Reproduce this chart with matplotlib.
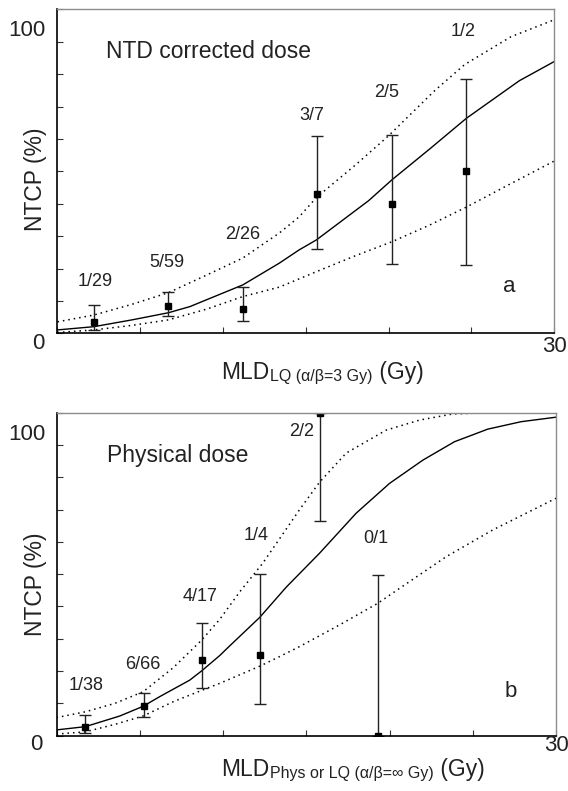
import numpy as np
import matplotlib
matplotlib.use("Agg")
from matplotlib import pyplot as plt

plt.rcParams['font.family'] = ['Liberation Sans', 'DejaVu Sans']

# Panel a: NTD corrected dose (observed points with 68% CI)
ntd_x = [2.2, 6.7, 11.2, 15.65, 20.2, 24.7]
ntd_y = [3.4, 8.5, 7.7, 42.9, 40.0, 50.0]
ntd_lo = [1.2, 5.3, 3.8, 26.1, 21.5, 21.1]
ntd_hi = [8.7, 12.7, 14.4, 61.0, 61.4, 78.5]
ntd_labels = ["1/29", "5/59", "2/26", "3/7", "2/5", "1/2"]
ntd_label_x = [2.3, 6.6, 11.2, 15.35, 19.9, 24.5]
ntd_label_y = [16.0, 22.0, 30.6, 67.4, 74.4, 93.2]

# fitted curve and confidence band, panel a
ntd_fit_x = [0, 2.2, 4.5, 6.7, 8.0, 11.2, 13.4, 14.6, 15.65, 18.8, 20.2, 22.5, 24.7, 27.9, 30]
ntd_fit_y = [1.1, 2.1, 4.2, 6.4, 8.3, 15.0, 21.7, 25.8, 28.9, 41.0, 47.4, 57.0, 66.4, 78.0, 83.9]
ntd_up_x = [0, 2.2, 4.5, 6.7, 9.0, 11.2, 13.4, 14.6, 15.65, 18.0, 20.0, 22.8, 24.6, 27.4, 30]
ntd_up_y = [3.6, 5.7, 9.0, 12.6, 18.0, 23.3, 31.0, 36.0, 42.0, 52.0, 61.0, 75.0, 83.0, 91.6, 96.8]
ntd_dn_x = [0, 2.2, 4.5, 6.7, 9.0, 11.2, 13.4, 15.65, 18.0, 20.2, 22.5, 24.7, 27.0, 30]
ntd_dn_y = [0.3, 1.1, 2.5, 4.2, 7.5, 11.4, 14.3, 19.1, 24.0, 28.3, 33.5, 39.0, 45.2, 53.2]

# Panel b: physical dose
phys_x = [1.73, 5.23, 8.72, 12.2, 15.8, 19.3]
phys_y = [2.6, 9.1, 23.5, 25.0, 100.0, 0.0]
phys_lo = [0.9, 5.9, 14.7, 9.8, 66.6, 0.0]
phys_hi = [6.5, 13.2, 34.8, 50.0, 100.0, 49.7]
phys_labels = ["1/38", "6/66", "4/17", "1/4", "2/2", "0/1"]
phys_label_x = [1.77, 5.2, 8.6, 12.0, 14.7, 19.2]
phys_label_y = [15.4, 21.9, 43.0, 61.9, 94.1, 60.9]

phys_fit_x = [0, 1.73, 3.8, 5.2, 6.2, 8.0, 8.7, 9.8, 10.4, 12.2, 13.8, 15.4, 15.8, 18.0, 20.0, 22.0, 23.9, 25.9, 27.9, 30]
phys_fit_y = [1.8, 2.8, 6.1, 9.1, 12.1, 17.2, 20.0, 24.8, 27.8, 36.6, 46.0, 54.4, 56.5, 68.9, 78.1, 85.3, 91.0, 94.9, 97.2, 98.6]
phys_up_x = [0, 1.73, 3.5, 5.2, 7.0, 8.7, 9.8, 11.0, 12.4, 13.4, 14.6, 15.8, 17.4, 19.8, 21.8, 23.8, 26.0, 30]
phys_up_y = [5.6, 7.4, 10.0, 13.6, 21.0, 29.5, 36.0, 44.5, 53.5, 61.0, 70.0, 78.5, 87.5, 94.6, 97.7, 99.6, 100.0, 100.0]
phys_dn_x = [0, 1.73, 3.5, 5.2, 7.0, 8.7, 9.8, 12.2, 13.4, 14.6, 17.0, 19.3, 20.6, 23.4, 26.2, 30]
phys_dn_y = [0.5, 1.2, 3.5, 6.1, 10.5, 14.0, 16.2, 21.5, 24.5, 27.6, 34.3, 41.0, 45.6, 55.4, 63.7, 73.5]

fig = plt.figure(figsize=(5.68, 7.91), dpi=100)
ax_a = fig.add_axes([0.1012, 0.5784, 0.8742, 0.4096])
ax_b = fig.add_axes([0.0995, 0.0699, 0.8794, 0.4084])

dot = (0, (1, 2.6))
txt_col = '#222222'


def setup(ax):
    ax.set_xlim(0, 30)
    ax.set_ylim(0, 100)
    ax.set_xticks(np.arange(0, 31, 5))
    ax.set_yticks(np.arange(0, 101, 10))
    ax.set_xticklabels([])
    ax.set_yticklabels([])
    ax.tick_params(direction='in', length=4, width=0.8, color='#333333')
    for s in ['left', 'bottom']:
        ax.spines[s].set_linewidth(1.2)
        ax.spines[s].set_color('black')
    for s in ['top', 'right']:
        ax.spines[s].set_linewidth(1.0)
        ax.spines[s].set_color('#8c8c8c')


def panel(ax, px, py, plo, phi, labels, lx, ly, fx, fy, ux, uy, dx, dy):
    ax.plot(fx, fy, color='black', lw=1.0)
    ax.plot(ux, uy, color='black', lw=1.1, linestyle=dot)
    ax.plot(dx, dy, color='black', lw=1.1, linestyle=dot)
    yerr = [np.array(py) - np.array(plo), np.array(phi) - np.array(py)]
    ax.errorbar(px, py, yerr=yerr, fmt='s', color='black', ms=4.5,
                ecolor=txt_col, elinewidth=1.0, capsize=4, capthick=1.0)
    for t, x, y in zip(labels, lx, ly):
        ax.text(x, y, t, fontsize=13, ha='center', va='center', color=txt_col)


def xlabel(ax, x, y, sub):
    # "MLD" + smaller subscript + "(Gy)", chained so the pieces sit side by side
    t1 = ax.text(x, y, "MLD", fontsize=16.5, ha='left', va='bottom',
                 transform=ax.transAxes, color=txt_col)
    t2 = ax.annotate(sub, xy=(1, 0), xycoords=t1, xytext=(0.5, 0), textcoords='offset points',
                     fontsize=11.5, ha='left', va='bottom', color=txt_col)
    ax.annotate(" (Gy)", xy=(1, 0), xycoords=t2, xytext=(0, 0), textcoords='offset points',
                fontsize=16.5, ha='left', va='bottom', color=txt_col)


def corner_labels(ax, top_xy, zero_xy, end_xy, ylab_xy):
    ax.text(*top_xy, "100", fontsize=16, ha='center', va='center', clip_on=False, color=txt_col)
    ax.text(*zero_xy, "0", fontsize=16, ha='center', va='center', clip_on=False, color=txt_col)
    ax.text(*end_xy, "30", fontsize=16, ha='center', va='center', clip_on=False, color=txt_col)
    ax.text(*ylab_xy, "NTCP (%)", fontsize=16.5, rotation=90, ha='center', va='center',
            transform=ax.transAxes, color=txt_col)


setup(ax_a)
panel(ax_a, ntd_x, ntd_y, ntd_lo, ntd_hi, ntd_labels, ntd_label_x, ntd_label_y,
      ntd_fit_x, ntd_fit_y, ntd_up_x, ntd_up_y, ntd_dn_x, ntd_dn_y)
ax_a.text(2.96, 87.0, "NTD corrected dose", fontsize=16.5, ha='left', va='center', color=txt_col)
ax_a.text(27.3, 14.4, "a", fontsize=16, ha='center', va='center', color=txt_col)
corner_labels(ax_a, (-1.84, 93.5), (-1.18, -3.0), (30.0, -4.1), (-0.045, 0.477))
xlabel(ax_a, 0.330, -0.157, "LQ (α/β=3 Gy)")

setup(ax_b)
panel(ax_b, phys_x, phys_y, phys_lo, phys_hi, phys_labels, phys_label_x, phys_label_y,
      phys_fit_x, phys_fit_y, phys_up_x, phys_up_y, phys_dn_x, phys_dn_y)
ax_b.text(3.04, 86.6, "Physical dose", fontsize=16.5, ha='left', va='center', color=txt_col)
ax_b.text(27.3, 13.6, "b", fontsize=16, ha='center', va='center', color=txt_col)
corner_labels(ax_b, (-1.77, 93.3), (-1.23, -2.6), (30.0, -2.9), (-0.043, 0.47))
xlabel(ax_b, 0.330, -0.140, "Phys or LQ (α/β=∞ Gy)")

fig.savefig("out.png", dpi=100, facecolor='white')
